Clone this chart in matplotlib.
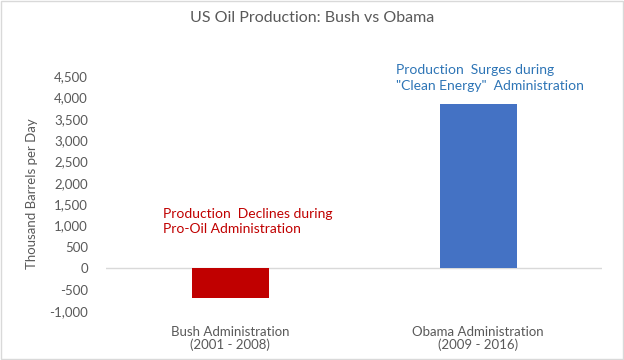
import matplotlib
matplotlib.use("Agg")
import matplotlib.pyplot as plt
from matplotlib.patches import Rectangle
from matplotlib.ticker import FuncFormatter

categories = ["Bush Administration\n(2001 - 2008)", "Obama Administration\n(2009 - 2016)"]
values = [-685, 3855]
colors = ["#C00000", "#4472C4"]
yticks = list(range(-1000, 4501, 500))

plt.rcParams['font.family'] = ['Lato', 'DejaVu Sans']

fig = plt.figure(figsize=(6.24, 3.6), dpi=100)
ax = fig.add_axes([0.170, 0.136, 0.795, 0.653])

x = list(range(len(categories)))
ax.bar(x, values, width=0.31, color=colors, zorder=3)
ax.axhline(0, color="#D9D9D9", lw=1, zorder=2)

ax.set_xlim(-0.5, 1.5)
ax.set_ylim(-1000, 4500)
ax.set_yticks(yticks)
ax.yaxis.set_major_formatter(FuncFormatter(lambda v, p: f"{int(v):,}"))
ax.set_xticks(x)
ax.set_xticklabels(categories, fontsize=9.5, color="#595959", linespacing=1.05)
ax.tick_params(axis='y', labelsize=9.5, labelcolor="#595959", length=0, pad=13)
ax.tick_params(axis='x', length=0, pad=11)
for s in ax.spines.values():
    s.set_visible(False)

ax.set_ylabel("Thousand Barrels per Day", fontsize=9.5, color="#595959", labelpad=8)

ax.text(-0.27, 1100, "Production  Declines during\nPro-Oil Administration", color="#C00000",
        fontsize=10, va="center", ha="left", linespacing=1.35)
ax.text(0.669, 4450, "Production  Surges during\n\"Clean Energy\"  Administration", color="#2E75B6",
        fontsize=10, va="center", ha="left", linespacing=1.35, clip_on=False)

fig.text(0.5, 0.95, "US Oil Production: Bush vs Obama", ha="center", va="center",
         fontsize=11.5, color="#595959")

fig.patches.append(Rectangle((0.002, 0.003), 0.996, 0.994, transform=fig.transFigure,
                             fill=False, edgecolor="#D9D9D9", lw=1))

fig.savefig("out.png", dpi=100)
